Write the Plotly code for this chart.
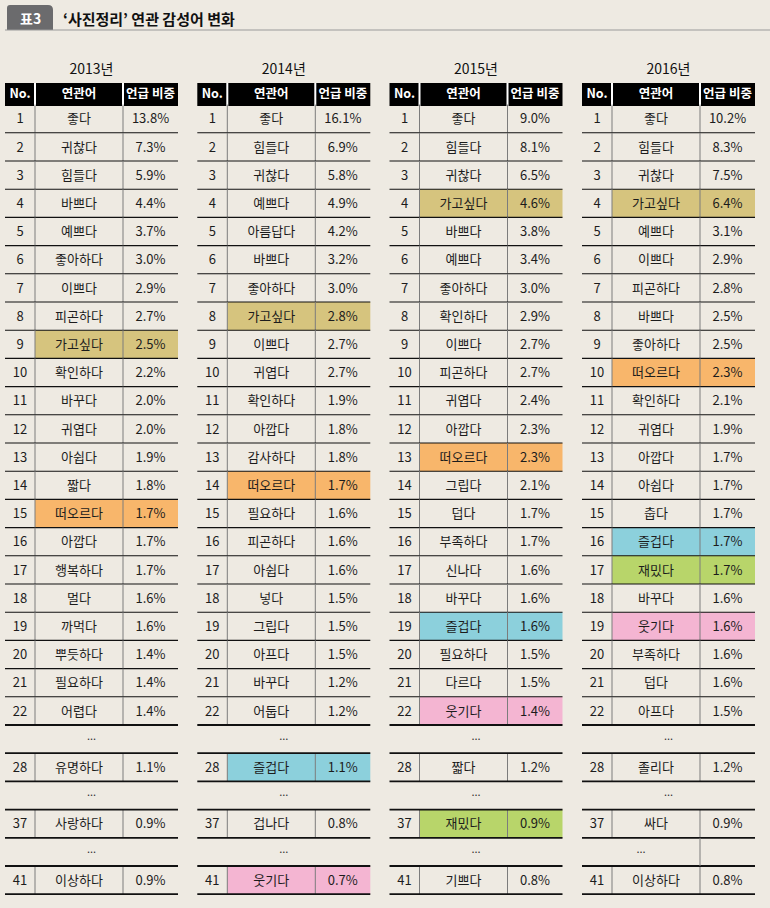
import plotly.graph_objects as go

# ---- data ----
years = ["2013년", "2014년", "2015년", "2016년"]
headers = ["No.", "연관어", "언급 비중"]
ranks = list(range(1, 23)) + [28, 37, 41]

words_2013 = ["좋다", "귀찮다", "힘들다", "바쁘다", "예쁘다", "좋아하다", "이쁘다", "피곤하다",
              "가고싶다", "확인하다", "바꾸다", "귀엽다", "아쉽다", "짧다", "떠오르다", "아깝다",
              "행복하다", "멀다", "까먹다", "뿌듯하다", "필요하다", "어렵다",
              "유명하다", "사랑하다", "이상하다"]
share_2013 = [13.8, 7.3, 5.9, 4.4, 3.7, 3.0, 2.9, 2.7, 2.5, 2.2, 2.0, 2.0, 1.9, 1.8, 1.7, 1.7,
              1.7, 1.6, 1.6, 1.4, 1.4, 1.4, 1.1, 0.9, 0.9]

words_2014 = ["좋다", "힘들다", "귀찮다", "예쁘다", "아름답다", "바쁘다", "좋아하다", "가고싶다",
              "이쁘다", "귀엽다", "확인하다", "아깝다", "감사하다", "떠오르다", "필요하다", "피곤하다",
              "아쉽다", "넣다", "그립다", "아프다", "바꾸다", "어둡다",
              "즐겁다", "겁나다", "웃기다"]
share_2014 = [16.1, 6.9, 5.8, 4.9, 4.2, 3.2, 3.0, 2.8, 2.7, 2.7, 1.9, 1.8, 1.8, 1.7, 1.6, 1.6,
              1.6, 1.5, 1.5, 1.5, 1.2, 1.2, 1.1, 0.8, 0.7]

words_2015 = ["좋다", "힘들다", "귀찮다", "가고싶다", "바쁘다", "예쁘다", "좋아하다", "확인하다",
              "이쁘다", "피곤하다", "귀엽다", "아깝다", "떠오르다", "그립다", "덥다", "부족하다",
              "신나다", "바꾸다", "즐겁다", "필요하다", "다르다", "웃기다",
              "짧다", "재밌다", "기쁘다"]
share_2015 = [9.0, 8.1, 6.5, 4.6, 3.8, 3.4, 3.0, 2.9, 2.7, 2.7, 2.4, 2.3, 2.3, 2.1, 1.7, 1.7,
              1.6, 1.6, 1.6, 1.5, 1.5, 1.4, 1.2, 0.9, 0.8]

words_2016 = ["좋다", "힘들다", "귀찮다", "가고싶다", "예쁘다", "이쁘다", "피곤하다", "바쁘다",
              "좋아하다", "떠오르다", "확인하다", "귀엽다", "아깝다", "아쉽다", "춥다", "즐겁다",
              "재밌다", "바꾸다", "웃기다", "부족하다", "덥다", "아프다",
              "졸리다", "싸다", "이상하다"]
share_2016 = [10.2, 8.3, 7.5, 6.4, 3.1, 2.9, 2.8, 2.5, 2.5, 2.3, 2.1, 1.9, 1.7, 1.7, 1.7, 1.7,
              1.7, 1.6, 1.6, 1.6, 1.6, 1.5, 1.2, 0.9, 0.8]

words = [words_2013, words_2014, words_2015, words_2016]
shares = [share_2013, share_2014, share_2015, share_2016]

# highlight colours for tracked words
highlight = {
    "가고싶다": "#D6C47E",
    "떠오르다": "#F8B66B",
    "즐겁다": "#8CD0DC",
    "재밌다": "#B8D56A",
    "웃기다": "#F4B5D2",
}

BG = "#EEEAE2"
FONT = "Noto Sans CJK KR"
TXT = "#1c1c1c"

# ---- geometry ----
table_x = [5, 197.3, 389.5, 582]
col_w = [30, 88, 55]
tab_w = sum(col_w)
head_top, head_bot = 83, 106
row_top, row_h = 104.6, 28.2
text_dy = 1.5   # glyphs sit a touch low in the cells


def slot_of(i):
    return i if i < 22 else 22 + 2 * (i - 22) + 1


def slot_y(s):
    return row_top + row_h * s, row_top + row_h * (s + 1)


shapes = []
fig = go.Figure()

# title tab and title
shapes.append(dict(type="path", path="M 7 30 L 7 8 Q 7 5 10 5 L 48 5 Q 53 5 53 10 L 53 30 Z",
                   fillcolor="#6B6B6D", line=dict(width=0), layer="below"))
shapes.append(dict(type="line", x0=5, x1=770, y0=30, y1=30,
                   line=dict(color="#9A9A9A", width=1), layer="below"))

for t in range(4):
    x0 = table_x[t]
    xs = [x0, x0 + col_w[0], x0 + col_w[0] + col_w[1], x0 + tab_w]
    # header
    shapes.append(dict(type="rect", x0=xs[0], x1=xs[3], y0=head_top, y1=head_bot,
                       fillcolor="#000000", line=dict(width=0), layer="below"))
    for xv in xs[1:3]:
        shapes.append(dict(type="line", x0=xv, x1=xv, y0=head_top, y1=head_bot,
                           line=dict(color="#FFFFFF", width=2), layer="below"))
    # highlights
    for i, w in enumerate(words[t]):
        if w in highlight:
            ya, yb = slot_y(slot_of(i))
            shapes.append(dict(type="rect", x0=xs[1], x1=xs[3], y0=ya, y1=yb,
                               fillcolor=highlight[w], line=dict(width=0), layer="below"))
    # vertical dividers and row lines
    for i in range(len(ranks)):
        ya, yb = slot_y(slot_of(i))
        for xv in xs[1:3]:
            shapes.append(dict(type="line", x0=xv, x1=xv, y0=ya, y1=yb,
                               line=dict(color="#7C7C7C", width=1), layer="below"))
        thick_bot = i >= 21
        thick_top = i >= 22
        shapes.append(dict(type="line", x0=xs[0], x1=xs[3], y0=yb, y1=yb,
                           line=dict(color="#111111", width=1.8 if thick_bot else 1.1),
                           layer="below"))
        if thick_top:
            shapes.append(dict(type="line", x0=xs[0], x1=xs[3], y0=ya, y1=ya,
                               line=dict(color="#111111", width=1.8), layer="below"))
    # gap rows with dots
    dot_x, dot_y = [], []
    for g, s in enumerate([22, 24, 26]):
        ya, yb = slot_y(s)
        if t == 3 and g == 2:
            shapes.append(dict(type="line", x0=xs[2], x1=xs[2], y0=ya, y1=yb,
                               line=dict(color="#7C7C7C", width=1), layer="below"))
            dot_x.append((xs[0] + xs[2]) / 2)
        else:
            dot_x.append((xs[0] + xs[3]) / 2)
        dot_y.append((ya + yb) / 2 - 2)
    fig.add_trace(go.Scatter(x=dot_x, y=dot_y, mode="text", text=["..."] * 3,
                             textfont=dict(family=FONT, size=11, color="#333333"),
                             hoverinfo="skip", showlegend=False))

    # header text
    hx = [(xs[k] + xs[k + 1]) / 2 for k in range(3)]
    fig.add_trace(go.Scatter(x=hx, y=[(head_top + head_bot) / 2] * 3, mode="text",
                             text=headers,
                             textfont=dict(family=FONT, size=12.5, color="#FFFFFF", weight="bold"),
                             hoverinfo="skip", showlegend=False))
    # year label
    fig.add_trace(go.Scatter(x=[x0 + tab_w / 2], y=[70], mode="text", text=[years[t]],
                             textfont=dict(family=FONT, size=14, color="#111111"),
                             hoverinfo="skip", showlegend=False))
    # body text
    ys = [sum(slot_y(slot_of(i))) / 2 + text_dy for i in range(len(ranks))]
    fig.add_trace(go.Scatter(x=[hx[0]] * len(ranks), y=ys, mode="text",
                             text=[str(r) for r in ranks],
                             textfont=dict(family=FONT, size=13, color=TXT),
                             hoverinfo="skip", showlegend=False))
    fig.add_trace(go.Scatter(x=[hx[1]] * len(ranks), y=ys, mode="text", text=words[t],
                             textfont=dict(family=FONT, size=13, color=TXT),
                             hoverinfo="skip", showlegend=False))
    fig.add_trace(go.Scatter(x=[hx[2]] * len(ranks), y=ys, mode="text",
                             text=[f"{v:.1f}%" for v in shares[t]],
                             textfont=dict(family=FONT, size=13, color=TXT),
                             hoverinfo="skip", showlegend=False))

fig.add_annotation(x=30, y=18, text="<b>표3</b>", showarrow=False, xanchor="center",
                   yanchor="middle", font=dict(family=FONT, size=14, color="#FFFFFF"))
fig.add_annotation(x=61, y=18, text="<b>‘사진정리’ 연관 감성어 변화</b>", showarrow=False,
                   xanchor="left", yanchor="middle", font=dict(family=FONT, size=15, color="#111111"))

fig.update_layout(
    width=770, height=908,
    margin=dict(l=0, r=0, t=0, b=0),
    paper_bgcolor=BG, plot_bgcolor=BG,
    shapes=shapes,
    xaxis=dict(range=[0, 770], visible=False, fixedrange=True),
    yaxis=dict(range=[908, 0], visible=False, fixedrange=True),
    showlegend=False,
)

# drop the browser's default body margin so the figure sits at the page origin
fig.write_html("out.html", config={"displayModeBar": False},
               post_script="document.body.style.margin='0';")
